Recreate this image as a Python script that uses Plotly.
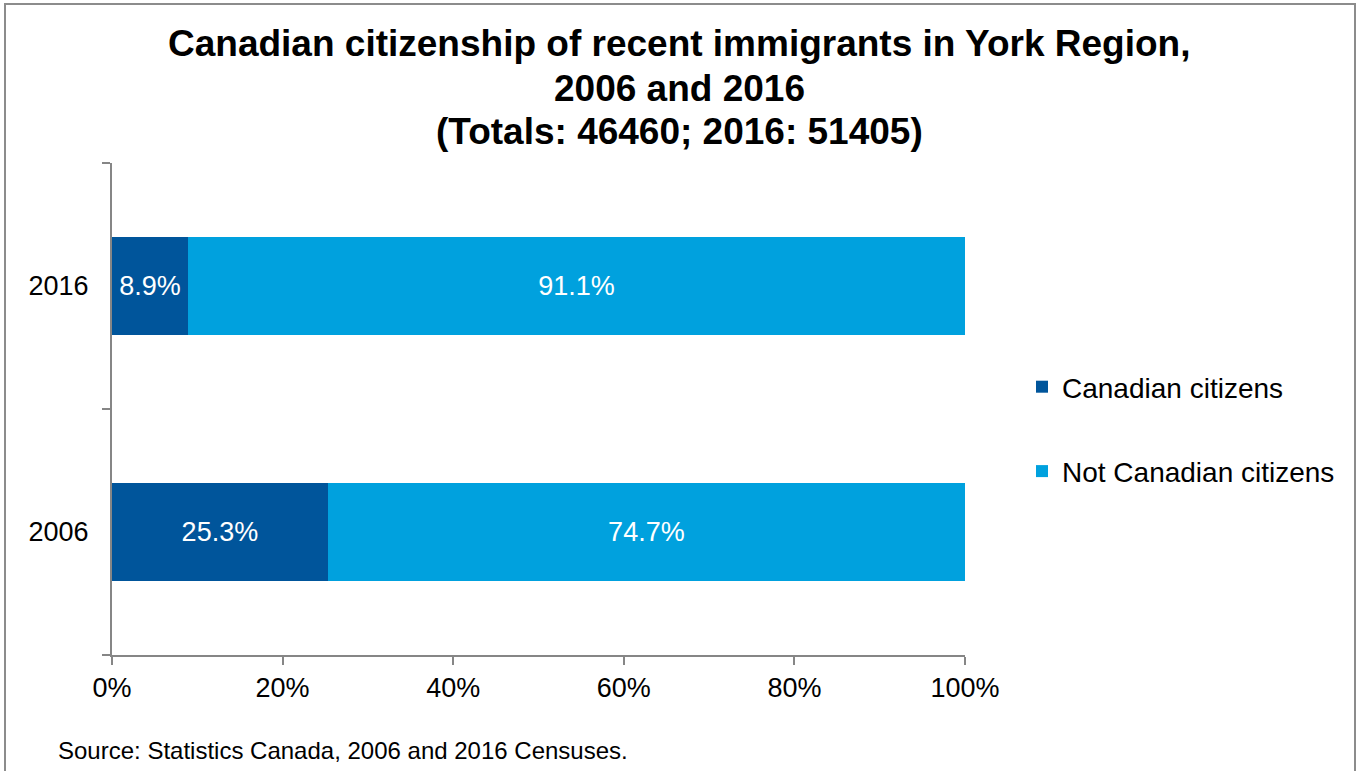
import plotly.graph_objects as go

# Census years (bottom to top) and share of recent immigrants by citizenship status
years = ["2006", "2016"]
citizens_pct = [25.3, 8.9]
not_citizens_pct = [74.7, 91.1]

series_names = ["Canadian citizens", "Not Canadian citizens"]
series_colors = ["#00559B", "#00A1DE"]

title_lines = [
    "Canadian citizenship of recent immigrants in York Region,",
    "2006 and 2016",
    "(Totals: 46460; 2016: 51405)",
]
source_note = "Source: Statistics Canada, 2006 and 2016 Censuses."

W, H = 1357, 771
L, R, T, B = 112, 392, 163, 116
pw, ph = W - L - R, H - T - B


def px_x(x):
    return (x - L) / pw


def px_y(y):
    return (H - B - y) / ph


FONT = "Liberation Sans, Arial, sans-serif"
AXIS_GREY = "#868686"

fig = go.Figure()
for i, (name, vals, col) in enumerate(zip(series_names, [citizens_pct, not_citizens_pct], series_colors)):
    fig.add_trace(go.Bar(
        y=years, x=vals, name=name, orientation="h",
        marker=dict(color=col, line=dict(width=0)),
        width=0.4,
        text=[f"{v:.1f}%" for v in vals],
        textposition="inside", insidetextanchor="middle",
        textfont=dict(color="white", size=27, family=FONT),
        legendgroup=f"g{i}",
        hoverinfo="skip",
    ))

annotations = []
title_centers = [44, 88, 131]
for line, yc in zip(title_lines, title_centers):
    annotations.append(dict(
        text=f"<b>{line}</b>", x=px_x(679), y=px_y(yc), xref="paper", yref="paper",
        xanchor="center", yanchor="middle", showarrow=False,
        font=dict(size=37, color="black", family=FONT),
    ))
annotations.append(dict(
    text=source_note, x=px_x(56), y=px_y(750), xref="paper", yref="paper",
    xanchor="left", yanchor="middle", showarrow=False,
    font=dict(size=24, color="black", family=FONT),
))

fig.update_layout(
    width=W, height=H,
    margin=dict(l=L, r=R, t=T, b=B),
    barmode="stack",
    paper_bgcolor="white", plot_bgcolor="white",
    font=dict(family=FONT, size=27, color="black"),
    showlegend=True,
    legend=dict(
        x=px_x(1022), y=px_y(429), xanchor="left", yanchor="middle",
        font=dict(size=28, color="black", family=FONT),
        traceorder="grouped", tracegroupgap=45,
        bgcolor="rgba(0,0,0,0)",
    ),
    annotations=annotations,
    shapes=[dict(
        type="rect", xref="paper", yref="paper",
        x0=px_x(5), x1=px_x(1355), y0=px_y(800), y1=px_y(4),
        line=dict(color="#8C8C8C", width=2), fillcolor="rgba(0,0,0,0)", layer="below",
    )],
)

fig.update_xaxes(
    range=[0, 100], tickvals=[0, 20, 40, 60, 80, 100],
    ticktext=["0%", "20%", "40%", "60%", "80%", "100%"],
    showgrid=False, zeroline=False,
    showline=True, linecolor=AXIS_GREY, linewidth=2,
    ticks="outside", ticklen=8, tickwidth=2, tickcolor=AXIS_GREY,
    tickfont=dict(size=27, color="black", family=FONT),
    fixedrange=True,
)
fig.update_yaxes(
    type="category", categoryorder="array", categoryarray=years,
    range=[-0.5, 1.5],
    showgrid=False, zeroline=False,
    showline=True, linecolor=AXIS_GREY, linewidth=2,
    ticks="outside", tickson="boundaries", ticklen=8, tickwidth=2, tickcolor=AXIS_GREY,
    ticklabelstandoff=16,
    tickfont=dict(size=27, color="black", family=FONT),
    fixedrange=True,
)

fig.write_html("out.html", config={"displayModeBar": False})
